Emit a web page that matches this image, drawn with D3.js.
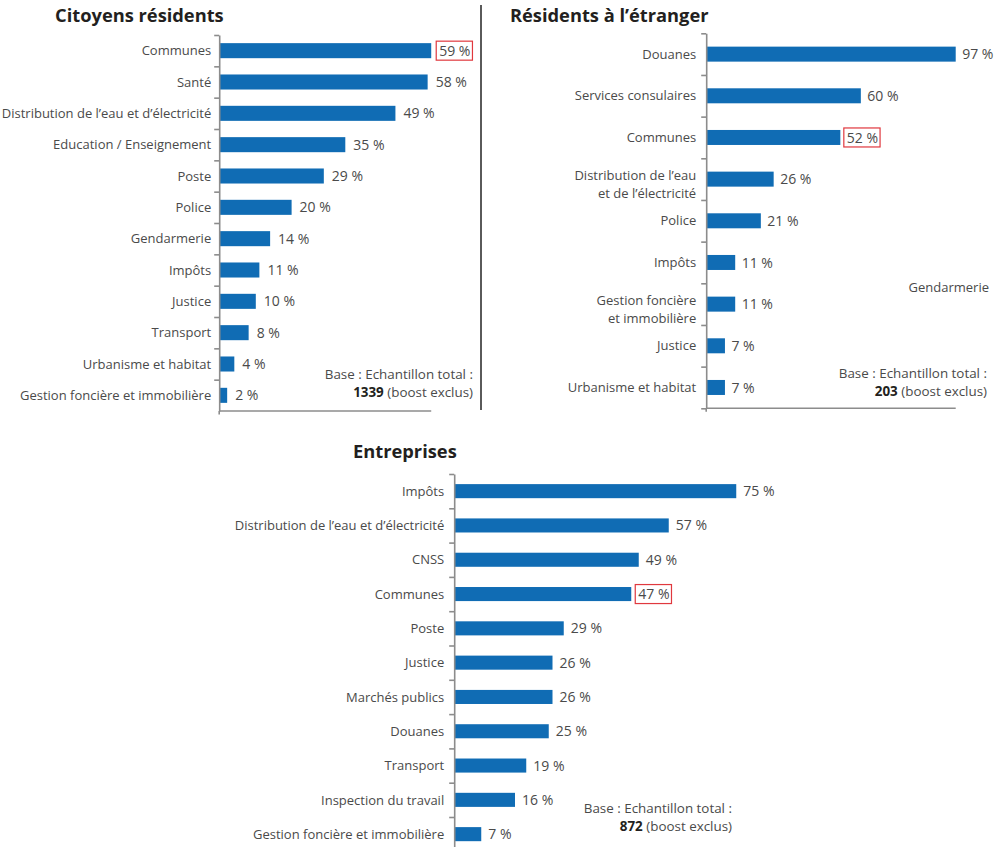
<!DOCTYPE html>
<html><head><meta charset="utf-8">
<script src="https://cdn.jsdelivr.net/npm/d3@7"></script>
<style>
body{margin:0;background:#fff;}
svg{display:block;font-family:"Open Sans",sans-serif;}
</style></head><body>
<svg id="c" width="999" height="847"></svg>
<script>
// ---------- DATA ----------
const titles = ["Citoyens résidents", "Résidents à l’étranger", "Entreprises"];

const citoyensCategories = ["Communes", "Santé", "Distribution de l’eau et d’électricité", "Education / Enseignement", "Poste", "Police", "Gendarmerie", "Impôts", "Justice", "Transport", "Urbanisme et habitat", "Gestion foncière et immobilière"];
const citoyensValues = [59, 58, 49, 35, 29, 20, 14, 11, 10, 8, 4, 2];

const etrangerCategories = ["Douanes", "Services consulaires", "Communes", "Distribution de l’eau|et de l’électricité", "Police", "Impôts", "Gestion foncière|et immobilière", "Justice", "Urbanisme et habitat"];
const etrangerValues = [97, 60, 52, 26, 21, 11, 11, 7, 7];

const entreprisesCategories = ["Impôts", "Distribution de l’eau et d’électricité", "CNSS", "Communes", "Poste", "Justice", "Marchés publics", "Douanes", "Transport", "Inspection du travail", "Gestion foncière et immobilière"];
const entreprisesValues = [75, 57, 49, 47, 29, 26, 26, 25, 19, 16, 7];

const highlightedCategory = "Communes";
const baseNote = "Base : Echantillon total :";
const sampleSizes = ["1339", "203", "872"];
const sampleSuffix = " (boost exclus)";
const strayLabel = "Gendarmerie";

// ---------- STYLE ----------
const BAR = "#106cb4", AXIS = "#8c8c8c", TXT = "#4a4a4a", DARK = "#231f20", RED = "#e0383e";
const FS = 13, FSV = 14, FSN = 13.4, FST = 18.3;

const svg = d3.select("#c");

// vertical separator
svg.append("line").attr("x1", 481).attr("x2", 481).attr("y1", 5).attr("y2", 410)
  .attr("stroke", "#5a5a5a").attr("stroke-width", 2);

const panels = [
  {title: titles[0], tx: 55, ty: 22, cats: citoyensCategories, vals: citoyensValues,
   x0: 220, x100: 578, yTop: 35, yBot: 411, frac: 0.48, labelGap: 8, valueGap: 8,
   noteX: 473, noteY: 379, size: sampleSizes[0], bottomTick: false, showBottom: true},
  {title: titles[1], tx: 510, ty: 22, cats: etrangerCategories, vals: etrangerValues,
   x0: 707, x100: 963.4, yTop: 33.3, yBot: 408.3, frac: 0.36, labelGap: 10, valueGap: 6.5,
   noteX: 987, noteY: 378, size: sampleSizes[1], bottomTick: true, showBottom: true},
  {title: titles[2], tx: 353, ty: 458, cats: entreprisesCategories, vals: entreprisesValues,
   x0: 455, x100: 830, yTop: 474, yBot: 474 + 11 * 34.3, frac: 0.41, labelGap: 10, valueGap: 7,
   noteX: 732, noteY: 812.7, size: sampleSizes[2], bottomTick: false, showBottom: false}
];

panels.forEach(p => {
  const g = svg.append("g");
  const n = p.cats.length;
  const x = d3.scaleLinear().domain([0, 100]).range([p.x0, p.x100]);
  const y = d3.scaleBand().domain(p.cats).range([p.yTop, p.yBot]).padding(0);
  const idx = d3.scaleLinear().domain([0, n]).range([p.yTop, p.yBot]);
  const bh = y.bandwidth() * p.frac;
  const axisX = p.x0 - 0.8;

  // title
  g.append("text").attr("x", p.tx).attr("y", p.ty).text(p.title)
    .attr("font-size", FST).attr("font-weight", 700).attr("fill", DARK);

  // bars
  p.cats.forEach((c, i) => {
    const cy = y(c) + y.bandwidth() / 2;
    g.append("rect").attr("x", x(0)).attr("y", cy - bh / 2)
      .attr("width", x(p.vals[i]) - x(0)).attr("height", bh).attr("fill", BAR);

    // category label
    const lines = c.split("|");
    const lt = g.append("text").attr("text-anchor", "end").attr("font-size", FS).attr("fill", TXT);
    if (lines.length === 1) {
      lt.attr("x", axisX - p.labelGap).attr("y", cy).attr("dy", "0.36em").text(c);
    } else {
      lines.forEach((l, k) => lt.append("tspan").attr("x", axisX - p.labelGap)
        .attr("y", cy + 0.8 + k * 18).text(l));
    }

    // value label
    const vt = g.append("text").attr("x", x(p.vals[i]) + p.valueGap).attr("y", cy).attr("dy", "0.36em")
      .attr("font-size", FSV).attr("fill", TXT).text(p.vals[i] + " %");
    if (c === highlightedCategory) {
      const bb = vt.node().getBBox();
      g.append("rect").attr("x", bb.x - 3).attr("y", cy - 9.5)
        .attr("width", bb.width + 5).attr("height", 19)
        .attr("fill", "none").attr("stroke", RED).attr("stroke-width", 1.2);
    }
  });

  // axis with ticks at band boundaries
  const ax = g.append("g").attr("transform", `translate(${axisX},0)`)
    .call(d3.axisLeft(idx).tickValues(d3.range(p.bottomTick ? n + 1 : n)).tickSize(5).tickSizeOuter(0).tickFormat(""));
  ax.select(".domain").attr("stroke", AXIS).attr("stroke-width", 1.6);
  ax.selectAll(".tick line").attr("stroke", AXIS).attr("stroke-width", 1.6);

  // extension below & bottom line up to the longest bar
  g.append("line").attr("x1", axisX).attr("x2", axisX).attr("y1", p.yBot).attr("y2", p.yBot + 3.5)
    .attr("stroke", AXIS).attr("stroke-width", 1.6);
  if (p.showBottom) {
    g.append("line").attr("x1", axisX).attr("x2", x(d3.max(p.vals)))
      .attr("y1", p.yBot).attr("y2", p.yBot).attr("stroke", AXIS).attr("stroke-width", 1.6);
  }

  // base note
  g.append("text").attr("x", p.noteX).attr("y", p.noteY).attr("text-anchor", "end")
    .attr("font-size", FSN).attr("fill", TXT).text(baseNote);
  const t2 = g.append("text").attr("x", p.noteX).attr("y", p.noteY + 18).attr("text-anchor", "end")
    .attr("font-size", FSN).attr("fill", TXT);
  t2.append("tspan").attr("font-weight", 700).attr("fill", DARK).text(p.size);
  t2.append("tspan").text(sampleSuffix);
});

// stray label in the second panel
svg.append("text").attr("x", 989).attr("y", 292).attr("text-anchor", "end")
  .attr("font-size", FS).attr("fill", TXT).text(strayLabel);
</script>
</body></html>
